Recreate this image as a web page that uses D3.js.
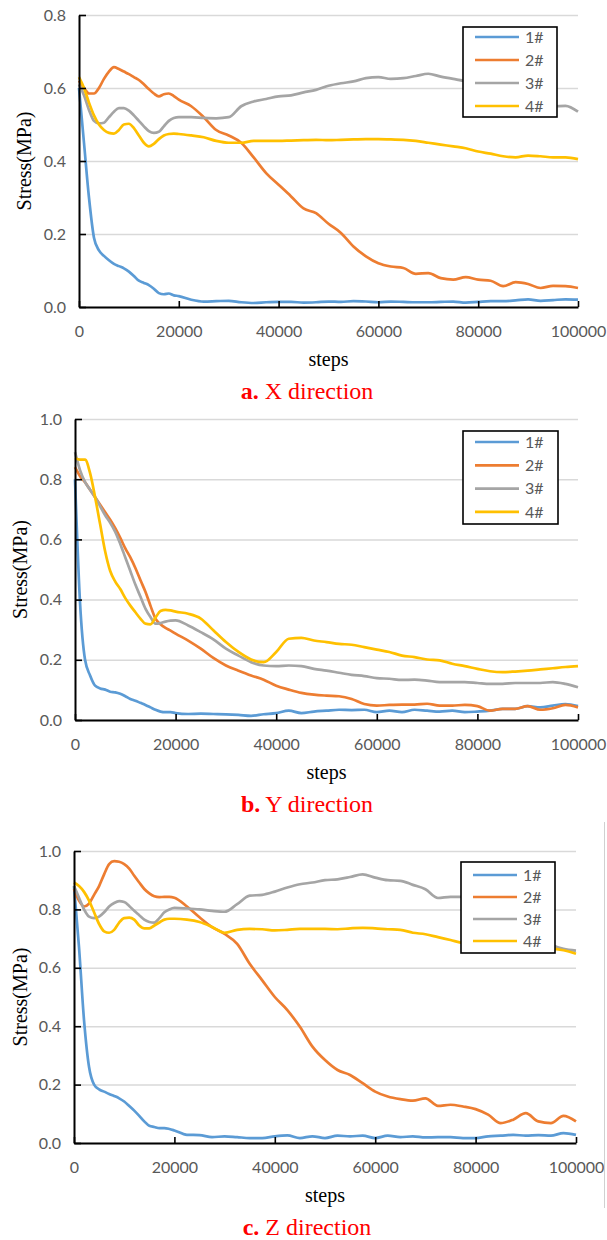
<!DOCTYPE html>
<html>
<head>
<meta charset="utf-8">
<script src="https://cdn.jsdelivr.net/npm/d3@7"></script>
<style>
  body { margin: 0; background: #fff; }
  .tick text { font-family: Lato, "Open Sans", sans-serif; font-size: 16px; fill: #595959; }
</style>
</head>
<body>
<svg id="chart" width="607" height="1240"></svg>
<script>
const steps = [0, 1000, 2000, 3000, 4000, 5000, 6000, 7000, 8000, 9000, 10000,
    11000, 12000, 13000, 14000, 15000, 16000, 17000, 18000, 19000, 20000,
    22500, 25000, 27500, 30000, 32500, 35000, 37500, 40000, 42500, 45000, 47500, 50000,
    52500, 55000, 57500, 60000, 62500, 65000, 67500, 70000, 72500, 75000, 77500, 80000,
    82500, 85000, 87500, 90000, 92500, 95000, 97500, 100000];

const seriesNames = ["1#", "2#", "3#", "4#"];
const xTicks = [0, 20000, 40000, 60000, 80000, 100000];

// a. X direction
const xStress1 = [0.600, 0.450, 0.300, 0.190, 0.155, 0.140, 0.128, 0.118, 0.112, 0.106, 0.097, 0.085, 0.072, 0.066, 0.060, 0.050, 0.038, 0.035, 0.037, 0.032, 0.030,
    0.020, 0.015, 0.016, 0.017, 0.013, 0.011, 0.013, 0.014, 0.014, 0.012, 0.013, 0.015, 0.014, 0.016, 0.015, 0.013, 0.015, 0.014, 0.013, 0.013, 0.014, 0.015, 0.012, 0.014, 0.016, 0.016, 0.018, 0.021, 0.017, 0.019, 0.021, 0.020];
const xStress2 = [0.620, 0.600, 0.585, 0.585, 0.600, 0.625, 0.645, 0.657, 0.652, 0.645, 0.638, 0.630, 0.622, 0.610, 0.597, 0.585, 0.577, 0.583, 0.585, 0.578, 0.568,
    0.550, 0.520, 0.485, 0.470, 0.450, 0.410, 0.367, 0.335, 0.303, 0.270, 0.257, 0.228, 0.203, 0.166, 0.139, 0.120, 0.111, 0.107, 0.091, 0.093, 0.079, 0.075, 0.082, 0.075, 0.072, 0.057, 0.068, 0.063, 0.052, 0.058, 0.057, 0.052];
const xStress3 = [0.610, 0.580, 0.540, 0.510, 0.503, 0.505, 0.520, 0.535, 0.545, 0.545, 0.538, 0.525, 0.510, 0.495, 0.482, 0.477, 0.480, 0.495, 0.510, 0.518, 0.520,
    0.520, 0.518, 0.517, 0.520, 0.550, 0.563, 0.570, 0.577, 0.580, 0.588, 0.595, 0.606, 0.613, 0.618, 0.627, 0.630, 0.625, 0.627, 0.633, 0.639, 0.631, 0.625, 0.620, 0.620, 0.610, 0.600, 0.590, 0.580, 0.565, 0.550, 0.551, 0.535];
const xStress4 = [0.630, 0.600, 0.560, 0.525, 0.500, 0.485, 0.477, 0.475, 0.485, 0.500, 0.502, 0.490, 0.470, 0.450, 0.440, 0.447, 0.460, 0.470, 0.474, 0.475, 0.474,
    0.470, 0.465, 0.455, 0.450, 0.450, 0.455, 0.455, 0.455, 0.456, 0.457, 0.458, 0.457, 0.458, 0.459, 0.460, 0.460, 0.459, 0.458, 0.455, 0.450, 0.445, 0.440, 0.435, 0.426, 0.420, 0.413, 0.410, 0.415, 0.413, 0.410, 0.410, 0.405];

// b. Y direction
const yStress1 = [0.800, 0.390, 0.200, 0.148, 0.114, 0.105, 0.101, 0.094, 0.092, 0.087, 0.079, 0.070, 0.064, 0.057, 0.050, 0.042, 0.034, 0.028, 0.026, 0.026, 0.023,
    0.020, 0.021, 0.020, 0.019, 0.017, 0.014, 0.019, 0.023, 0.031, 0.023, 0.028, 0.031, 0.034, 0.033, 0.034, 0.026, 0.031, 0.026, 0.034, 0.031, 0.028, 0.031, 0.026, 0.028, 0.031, 0.037, 0.037, 0.046, 0.042, 0.048, 0.053, 0.046];
const yStress2 = [0.840, 0.810, 0.790, 0.765, 0.740, 0.715, 0.690, 0.665, 0.637, 0.605, 0.570, 0.540, 0.505, 0.465, 0.426, 0.380, 0.337, 0.318, 0.306, 0.297, 0.287,
    0.264, 0.237, 0.206, 0.181, 0.164, 0.148, 0.134, 0.114, 0.101, 0.090, 0.084, 0.081, 0.079, 0.070, 0.053, 0.048, 0.050, 0.051, 0.051, 0.054, 0.048, 0.048, 0.050, 0.046, 0.031, 0.037, 0.037, 0.046, 0.034, 0.039, 0.050, 0.042];
const yStress3 = [0.890, 0.830, 0.790, 0.765, 0.740, 0.710, 0.680, 0.655, 0.625, 0.585, 0.540, 0.495, 0.450, 0.410, 0.370, 0.342, 0.320, 0.322, 0.327, 0.330, 0.331,
    0.314, 0.292, 0.268, 0.237, 0.214, 0.192, 0.181, 0.179, 0.181, 0.179, 0.170, 0.164, 0.157, 0.150, 0.146, 0.139, 0.137, 0.133, 0.134, 0.131, 0.126, 0.126, 0.126, 0.123, 0.120, 0.120, 0.123, 0.123, 0.123, 0.126, 0.120, 0.109];
const yStress4 = [0.870, 0.865, 0.865, 0.820, 0.740, 0.650, 0.560, 0.495, 0.460, 0.435, 0.405, 0.380, 0.358, 0.337, 0.320, 0.318, 0.340, 0.362, 0.366, 0.364, 0.360,
    0.353, 0.337, 0.298, 0.259, 0.226, 0.201, 0.192, 0.226, 0.270, 0.273, 0.264, 0.259, 0.253, 0.250, 0.242, 0.234, 0.226, 0.214, 0.209, 0.201, 0.198, 0.187, 0.179, 0.170, 0.162, 0.159, 0.161, 0.164, 0.168, 0.172, 0.176, 0.179];

// c. Z direction
const zStress1 = [0.880, 0.670, 0.420, 0.260, 0.200, 0.184, 0.176, 0.168, 0.161, 0.153, 0.142, 0.127, 0.111, 0.093, 0.074, 0.059, 0.055, 0.051, 0.051, 0.048, 0.043,
    0.028, 0.027, 0.020, 0.023, 0.020, 0.017, 0.017, 0.023, 0.026, 0.017, 0.023, 0.017, 0.025, 0.023, 0.025, 0.017, 0.025, 0.020, 0.023, 0.019, 0.020, 0.020, 0.017, 0.017, 0.023, 0.025, 0.028, 0.025, 0.027, 0.025, 0.034, 0.028];
const zStress2 = [0.870, 0.830, 0.810, 0.820, 0.850, 0.880, 0.920, 0.955, 0.965, 0.963, 0.955, 0.940, 0.915, 0.892, 0.870, 0.855, 0.845, 0.842, 0.843, 0.843, 0.840,
    0.810, 0.773, 0.739, 0.716, 0.682, 0.614, 0.557, 0.500, 0.455, 0.398, 0.330, 0.284, 0.250, 0.233, 0.205, 0.176, 0.159, 0.150, 0.145, 0.153, 0.127, 0.131, 0.125, 0.116, 0.097, 0.068, 0.080, 0.102, 0.074, 0.068, 0.093, 0.074];
const zStress3 = [0.880, 0.840, 0.800, 0.775, 0.770, 0.775, 0.790, 0.810, 0.822, 0.828, 0.825, 0.812, 0.795, 0.780, 0.765, 0.757, 0.755, 0.770, 0.790, 0.800, 0.805,
    0.803, 0.800, 0.795, 0.792, 0.818, 0.847, 0.850, 0.861, 0.875, 0.886, 0.892, 0.900, 0.903, 0.911, 0.920, 0.909, 0.900, 0.898, 0.884, 0.869, 0.839, 0.843, 0.843, 0.847, 0.830, 0.800, 0.770, 0.740, 0.710, 0.680, 0.665, 0.659];
const zStress4 = [0.892, 0.880, 0.860, 0.830, 0.790, 0.750, 0.725, 0.720, 0.730, 0.755, 0.770, 0.772, 0.765, 0.745, 0.735, 0.735, 0.745, 0.755, 0.765, 0.768, 0.768,
    0.765, 0.757, 0.740, 0.720, 0.730, 0.733, 0.732, 0.728, 0.730, 0.733, 0.733, 0.733, 0.732, 0.735, 0.737, 0.735, 0.732, 0.730, 0.720, 0.715, 0.705, 0.695, 0.685, 0.680, 0.676, 0.672, 0.670, 0.668, 0.665, 0.665, 0.660, 0.648];

const colors = ["#5B9BD5", "#ED7D31", "#A5A5A5", "#FFC000"];

const panels = [
    { series: [xStress1, xStress2, xStress3, xStress4], yMax: 0.8, letter: "a.", dir: " X direction",
      left: 79, right: 578, top: 15, bottom: 307, labelX: 24,
      legend: { x: 463, y: 27, w: 94, h: 90, first: 10, gap: 23 } },
    { series: [yStress1, yStress2, yStress3, yStress4], yMax: 1.0, letter: "b.", dir: " Y direction",
      left: 75, right: 578, top: 419, bottom: 720, labelX: 20,
      legend: { x: 463, y: 431, w: 95, h: 93, first: 11, gap: 23.3 } },
    { series: [zStress1, zStress2, zStress3, zStress4], yMax: 1.0, letter: "c.", dir: " Z direction",
      left: 74, right: 576, top: 851, bottom: 1143, labelX: 20,
      legend: { x: 461, y: 862, w: 94, h: 91, first: 13, gap: 22 } }
];

const svg = d3.select("#chart");

function drawPanel(p) {
    const width = p.right - p.left;
    const height = p.bottom - p.top;
    const g = svg.append("g").attr("transform", `translate(${p.left},${p.top})`);

    // Set the scales
    const x = d3.scaleLinear().domain([0, 100000]).range([0, width]);
    const y = d3.scaleLinear().domain([0, p.yMax]).range([height, 0]);
    const yTicks = d3.range(0, p.yMax + 0.001, 0.2);

    // Gridlines
    g.append("g")
        .call(d3.axisLeft(y).tickValues(yTicks).tickSize(-width).tickFormat(""))
        .call(s => s.select(".domain").remove())
        .call(s => s.selectAll("line").attr("stroke", "#D9D9D9").attr("stroke-width", 1.5));

    // Lines
    const line = d3.line()
        .x((d, i) => x(steps[i]))
        .y(d => y(d))
        .curve(d3.curveMonotoneX);

    p.series.forEach((vals, k) => {
        g.append("path")
            .datum(vals)
            .attr("fill", "none")
            .attr("stroke", colors[k])
            .attr("stroke-width", 2.7)
            .attr("stroke-linejoin", "round")
            .attr("d", line);
    });

    // Add the x-axis
    g.append("g")
        .attr("transform", `translate(0,${height})`)
        .call(d3.axisBottom(x).tickValues(xTicks).tickFormat(d3.format("d"))
            .tickSizeInner(-6).tickSizeOuter(0).tickPadding(19))
        .call(s => s.select(".domain").attr("stroke", "#000").attr("stroke-width", 2))
        .call(s => s.selectAll(".tick line").attr("stroke", "#000").attr("stroke-width", 1.6));

    // Add the y-axis
    g.append("g")
        .call(d3.axisLeft(y).tickValues(yTicks).tickFormat(d3.format(".1f"))
            .tickSizeInner(-7).tickSizeOuter(0).tickPadding(13))
        .call(s => s.select(".domain").attr("stroke", "#000").attr("stroke-width", 2))
        .call(s => s.selectAll(".tick line").attr("stroke", "#000").attr("stroke-width", 1.6));

    // Legend
    const lg = svg.append("g").attr("transform", `translate(${p.legend.x},${p.legend.y})`);
    lg.append("rect")
        .attr("width", p.legend.w).attr("height", p.legend.h)
        .attr("fill", "#fff").attr("stroke", "#000").attr("stroke-width", 1.6);
    seriesNames.forEach((name, k) => {
        const ry = p.legend.first + k * p.legend.gap;
        lg.append("line")
            .attr("x1", 12).attr("x2", 56).attr("y1", ry).attr("y2", ry)
            .attr("stroke", colors[k]).attr("stroke-width", 2.7);
        lg.append("text")
            .attr("x", 62).attr("y", ry).attr("dy", "0.35em")
            .attr("font-family", "Lato, 'Open Sans', sans-serif").attr("font-size", 16)
            .attr("fill", "#595959")
            .text(name);
    });

    // Axis titles
    svg.append("text")
        .attr("transform", `translate(${p.labelX},${(p.top + p.bottom) / 2}) rotate(-90)`)
        .attr("text-anchor", "middle").attr("dominant-baseline", "central")
        .attr("font-family", "'Liberation Serif', 'Times New Roman', serif").attr("font-size", 20)
        .attr("fill", "#000")
        .text("Stress(MPa)");

    svg.append("text")
        .attr("x", (p.left + p.right) / 2).attr("y", p.bottom + 59)
        .attr("text-anchor", "middle")
        .attr("font-family", "'Liberation Serif', 'Times New Roman', serif").attr("font-size", 20)
        .attr("fill", "#000")
        .text("steps");

    // Caption
    const cap = svg.append("text")
        .attr("x", 307).attr("y", p.bottom + 92)
        .attr("text-anchor", "middle")
        .attr("font-family", "'Liberation Serif', 'Times New Roman', serif").attr("font-size", 24)
        .attr("fill", "#FF0000");
    cap.append("tspan").attr("font-weight", "bold").text(p.letter);
    cap.append("tspan").text(p.dir);
}

panels.forEach(drawPanel);

// thin scan border on the right of the last panel
svg.append("line")
    .attr("x1", 604.5).attr("x2", 604.5).attr("y1", 822).attr("y2", 1208)
    .attr("stroke", "#D0D0D0").attr("stroke-width", 1);
</script>
</body>
</html>
